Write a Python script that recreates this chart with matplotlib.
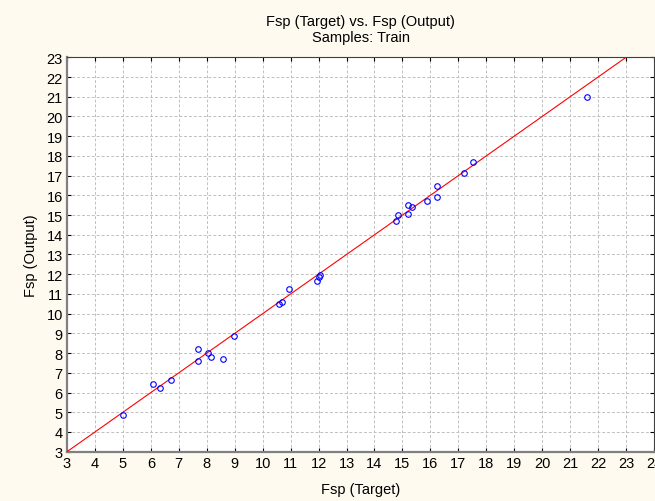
import matplotlib
matplotlib.use("Agg")
import matplotlib.pyplot as plt
import numpy as np

plt.rcParams['font.family'] = ['Liberation Sans', 'DejaVu Sans']

target = [5.01, 6.06, 6.34, 6.72, 7.70, 7.70, 8.05, 8.14, 8.59, 8.96,
          10.58, 10.69, 10.95, 11.95, 12.00, 12.04,
          14.77, 14.83, 15.20, 15.21, 15.35, 15.89, 16.25, 16.25,
          17.21, 17.53, 21.62]
output = [4.84, 6.43, 6.23, 6.65, 8.23, 7.59, 8.03, 7.80, 7.69, 8.86,
          10.49, 10.58, 11.27, 11.68, 11.85, 11.96,
          14.68, 15.00, 15.05, 15.51, 15.39, 15.71, 15.93, 16.46,
          17.12, 17.71, 21.00]
fit_x = [3, 23]
fit_y = [3, 23]
x_ticks = list(range(3, 25))
y_ticks = list(range(3, 24))

fig = plt.figure(figsize=(6.55, 5.02), dpi=100, facecolor='#FFFAF0')
ax = fig.add_axes([67/655, 1-452.7/502, (654-67)/655, (452.7-58.3)/502])
ax.set_facecolor('white')

ax.plot(fit_x, fit_y, color='red', lw=0.8, zorder=3)
ax.plot(target, output, 'o', mfc='none', mec='blue', ms=4, mew=0.8, zorder=4)

ax.set_xlim(3, 24)
ax.set_ylim(3, 23)
ax.set_xticks(x_ticks)
ax.set_yticks(y_ticks)
ax.grid(True, color='#c0c0c0', ls=(0, (3, 2)), lw=0.7)
ax.tick_params(direction='in', top=True, right=True, length=3, labelsize=10.5, pad=3, colors='black')
for s in ['left', 'bottom']:
    ax.spines[s].set_color('#808080')
    ax.spines[s].set_linewidth(1.6)
for s in ['right', 'top']:
    ax.spines[s].set_color('#404040')
    ax.spines[s].set_linewidth(0.8)

ax.set_xlabel('Fsp (Target)', fontsize=10.5, labelpad=9)
ax.set_ylabel('Fsp (Output)', fontsize=10.5, labelpad=6)
ax.set_title('Fsp (Target) vs. Fsp (Output)\nSamples: Train', fontsize=10.5, pad=12, linespacing=1.15)

fig.savefig('out.png', dpi=100, facecolor=fig.get_facecolor())
